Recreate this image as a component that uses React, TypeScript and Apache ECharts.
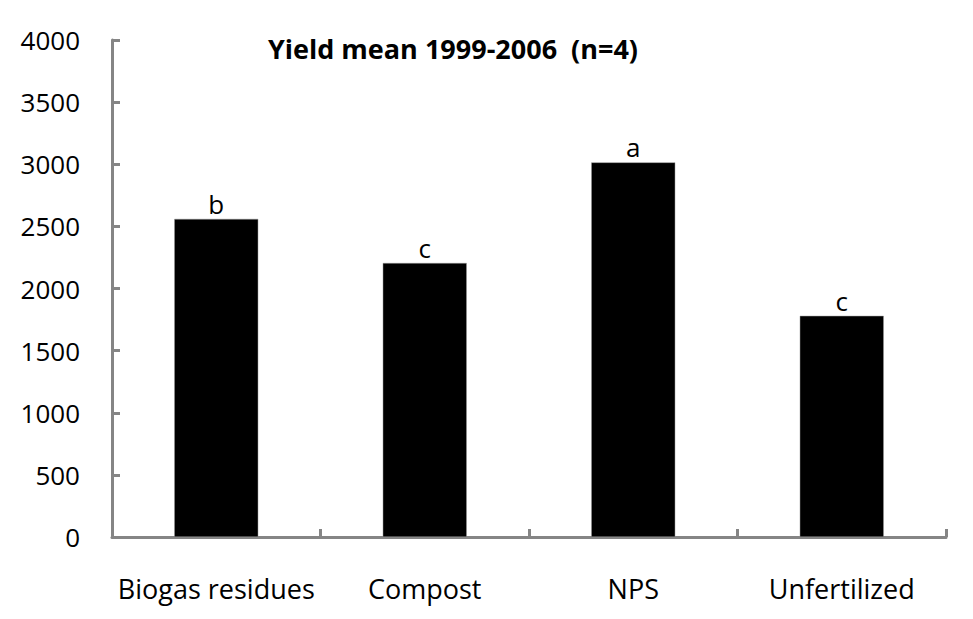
import React, { useEffect, useRef } from "react";
import * as echarts from "echarts";

const categories = ["Biogas residues", "Compost", "NPS", "Unfertilized"];
const yieldMeans = [2560, 2205, 3015, 1780];
const significanceLetters = ["b", "c", "a", "c"];
const titleText = "Yield mean 1999-2006  (n=4)";

const FONT = "Open Sans";
const AXIS_GRAY = "#858585";

export default function App() {
  const ref = useRef<HTMLDivElement>(null);
  useEffect(() => {
    if (!ref.current) return;
    const chart = echarts.init(ref.current, null, { renderer: "svg" });
    chart.setOption({
      animation: false,
      backgroundColor: "#ffffff",
      title: {
        text: titleText,
        left: 448,
        top: 30,
        textAlign: "center",
        textStyle: { fontFamily: FONT, fontSize: 27, fontWeight: "bold", color: "#000" },
      },
      grid: { left: 112, right: 27, top: 40, bottom: 82, containLabel: false },
      xAxis: {
        type: "category",
        data: categories,
        axisLine: { lineStyle: { color: AXIS_GRAY, width: 3 } },
        axisTick: {
          show: true,
          inside: true,
          length: 8,
          interval: 0,
          alignWithLabel: false,
          lineStyle: { color: AXIS_GRAY, width: 3 },
        },
        axisLabel: { interval: 0, fontFamily: FONT, fontSize: 27, color: "#000", margin: 38 },
      },
      yAxis: {
        type: "value",
        min: 0,
        max: 4000,
        interval: 500,
        splitLine: { show: false },
        axisLine: { show: true, lineStyle: { color: AXIS_GRAY, width: 3 } },
        axisTick: { show: true, inside: true, length: 8, lineStyle: { color: AXIS_GRAY, width: 3 } },
        axisLabel: {
          fontFamily: FONT,
          fontSize: 26,
          color: "#000",
          margin: 32,
          formatter: (v: number) => String(v),
        },
      },
      series: [
        {
          type: "bar",
          data: yieldMeans,
          barWidth: 84,
          itemStyle: { color: "#000", borderColor: "#999", borderWidth: 0.5 },
          label: {
            show: true,
            position: "top",
            distance: 2,
            fontFamily: FONT,
            fontSize: 26,
            color: "#000",
            formatter: (p: any) => significanceLetters[p.dataIndex],
          },
        },
      ],
    });
    return () => chart.dispose();
  }, []);
  return (
    <div
      ref={ref}
      style={{ position: "fixed", left: 0, top: 0, width: 973, height: 619, background: "#fff" }}
    />
  );
}
